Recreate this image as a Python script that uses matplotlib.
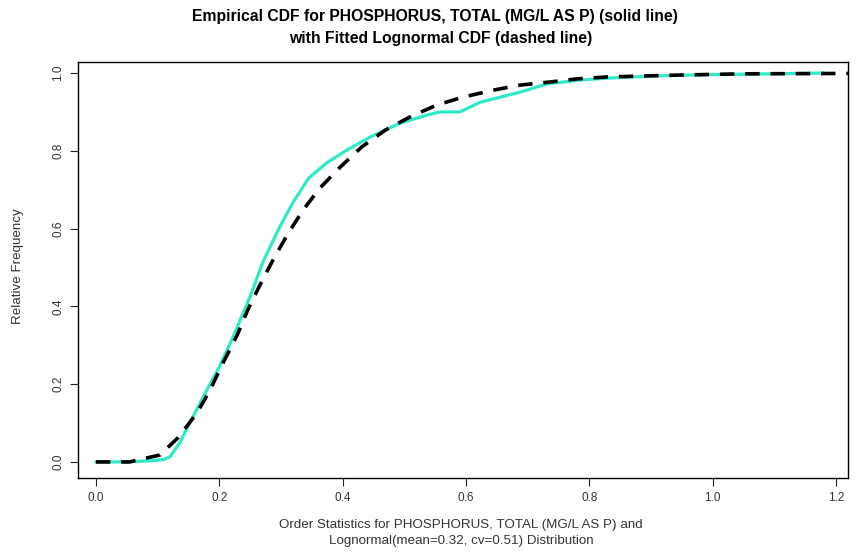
import matplotlib
matplotlib.use("Agg")
import matplotlib.pyplot as plt

plt.rcParams['font.family'] = ['Liberation Sans', 'DejaVu Sans']

# empirical CDF of the phosphorus samples (solid line)
emp_x = [0.0, 0.05, 0.09, 0.11, 0.12, 0.136, 0.152, 0.18, 0.20, 0.222, 0.25,
         0.271, 0.298, 0.319, 0.345, 0.375, 0.407, 0.444, 0.493, 0.537, 0.558,
         0.59, 0.623, 0.688, 0.731, 0.785, 0.83, 0.915, 1.0, 1.1, 1.18]
emp_y = [0.0, 0.0, 0.003, 0.006, 0.013, 0.049, 0.10, 0.185, 0.244, 0.32, 0.425,
         0.515, 0.604, 0.666, 0.73, 0.77, 0.802, 0.835, 0.871, 0.892, 0.90,
         0.90, 0.925, 0.951, 0.972, 0.982, 0.987, 0.993, 0.996, 0.998, 1.0]

# fitted lognormal CDF, mean=0.32, cv=0.51 (dashed line)
fit_x = [0.0, 0.055, 0.104, 0.133, 0.164, 0.185, 0.206, 0.229, 0.246, 0.266,
         0.287, 0.311, 0.336, 0.363, 0.396, 0.431, 0.469, 0.509, 0.553, 0.595,
         0.644, 0.688, 0.736, 0.78, 0.829, 0.877, 0.95, 1.05, 1.22]
fit_y = [0.0, 0.0, 0.018, 0.062, 0.126, 0.185, 0.254, 0.326, 0.39, 0.455,
         0.519, 0.586, 0.648, 0.704, 0.758, 0.81, 0.853, 0.887, 0.918, 0.938,
         0.956, 0.969, 0.977, 0.985, 0.99, 0.992, 0.995, 0.998, 0.999]

x_ticks = [0.0, 0.2, 0.4, 0.6, 0.8, 1.0, 1.2]
y_ticks = [0.0, 0.2, 0.4, 0.6, 0.8, 1.0]

fig = plt.figure(figsize=(8.59, 5.55), dpi=100)
ax = fig.add_axes([0.0908, 0.139, 0.8962, 0.749])

ax.plot(emp_x, emp_y, color='#2EEBC8', lw=2.3, solid_capstyle='round', zorder=2)
ax.plot(fit_x, fit_y, color='black', lw=2.6, dashes=(4, 3), zorder=3)

ax.set_xlim(-0.029, 1.219)
ax.set_ylim(-0.041, 1.028)
ax.set_xticks(x_ticks)
ax.set_xticklabels(['%.1f' % v for v in x_ticks])
ax.set_yticks(y_ticks)
ax.set_yticklabels(['%.1f' % v for v in y_ticks], rotation=90, va='center')
ax.tick_params(direction='out', length=6, width=0.8, colors='#222222',
               labelsize=8.5, labelcolor='#333333', pad=4)
for s in ax.spines.values():
    s.set_linewidth(1.0)

fig.text(0.506, 0.971, 'Empirical CDF for PHOSPHORUS, TOTAL (MG/L AS P) (solid line)',
         ha='center', va='center', fontsize=11.3, fontweight='bold')
fig.text(0.513, 0.930, 'with Fitted Lognormal CDF (dashed line)',
         ha='center', va='center', fontsize=11.3, fontweight='bold')

fig.text(0.537, 0.054, 'Order Statistics for PHOSPHORUS, TOTAL (MG/L AS P) and',
         ha='center', va='center', fontsize=9.6, color='#333333')
fig.text(0.537, 0.025, 'Lognormal(mean=0.32, cv=0.51) Distribution',
         ha='center', va='center', fontsize=9.6, color='#333333')
fig.text(0.021, 0.52, 'Relative Frequency', rotation=90,
         ha='center', va='center', fontsize=9.6, color='#333333')

fig.savefig('out.png', dpi=100)
